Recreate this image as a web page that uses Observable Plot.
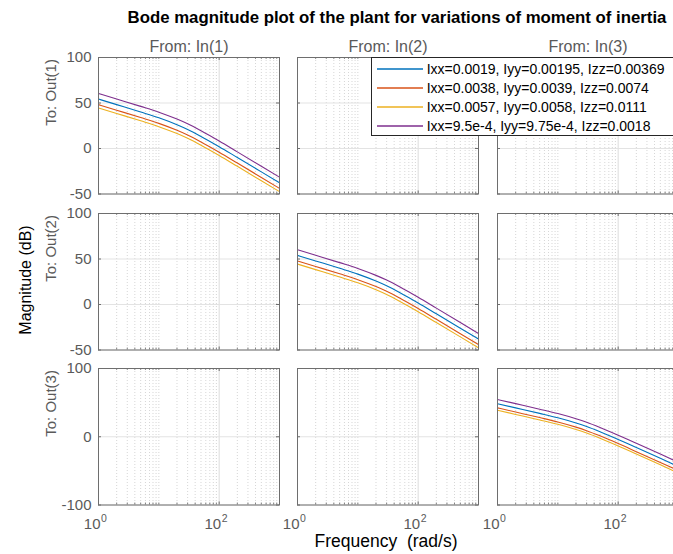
<!DOCTYPE html>
<html>
<head>
<meta charset="utf-8">
<script src="https://cdn.jsdelivr.net/npm/d3@7"></script>
<script src="https://cdn.jsdelivr.net/npm/@observablehq/plot@0.6"></script>
<style>
  html, body { margin: 0; padding: 0; background: #fff; overflow: hidden; }
  #chart { position: relative; width: 673px; height: 554px; overflow: hidden;
           font-family: "Liberation Sans", Arial, Helvetica, sans-serif; }
  .abs { position: absolute; white-space: pre; line-height: 1; }
  #title { font-weight: bold; font-size: 16.8px; color: #000; }
  #legend { position: absolute; background: #fff; border: 1px solid #262626; box-sizing: border-box; }
  .entry { position: absolute; display: flex; align-items: center; font-size: 14px; color: #000; white-space: pre; }
</style>
</head>
<body>
<div id="chart"></div>
<script>
// Frequency grid (rad/s) of the sampled responses
const freq = [1, 2, 5, 10, 20, 30, 50, 100, 200, 500, 1000];

// Inertia cases, in legend order
const seriesLabels = [
  "Ixx=0.0019, Iyy=0.00195, Izz=0.00369",
  "Ixx=0.0038, Iyy=0.0039, Izz=0.0074",
  "Ixx=0.0057, Iyy=0.0058, Izz=0.0111",
  "Ixx=9.5e-4, Iyy=9.75e-4, Izz=0.0018"
];
const seriesColors = ["#0072BD", "#D95319", "#EDB120", "#7E2F8E"];

// Magnitude (dB) of the In(1) -> Out(1) channel, one row per inertia case
const magIn1Out1 = [
  [54.3, 48.2, 40.1, 33.7, 26.1, 20.9, 13.3, 2.0, -9.9, -25.7, -37.7],
  [48.2, 42.1, 34.0, 27.6, 20.0, 14.8, 7.2, -4.1, -16.0, -31.8, -43.8],
  [44.6, 38.5, 30.4, 24.0, 16.4, 11.2, 3.6, -7.7, -19.6, -35.4, -47.4],
  [60.5, 54.4, 46.3, 39.9, 32.3, 27.1, 19.5, 8.2, -3.7, -19.5, -31.5]
];
// Magnitude (dB) of the In(2) -> Out(2) channel
const magIn2Out2 = [
  [54.0, 47.9, 39.8, 33.4, 25.8, 20.6, 13.0, 1.7, -10.2, -26.0, -38.0],
  [47.9, 41.8, 33.7, 27.3, 19.7, 14.5, 6.9, -4.4, -16.3, -32.1, -44.1],
  [44.4, 38.3, 30.2, 23.8, 16.2, 11.0, 3.4, -7.9, -19.8, -35.6, -47.6],
  [60.2, 54.1, 46.0, 39.6, 32.0, 26.8, 19.2, 7.9, -4.0, -19.8, -31.8]
];
// Magnitude (dB) of the In(3) -> Out(3) channel
const magIn3Out3 = [
  [48.4, 42.3, 34.2, 27.8, 20.2, 15.0, 7.4, -3.9, -15.8, -31.6, -43.6],
  [42.3, 36.2, 28.1, 21.7, 14.1, 8.9, 1.3, -10.0, -21.9, -37.7, -49.7],
  [38.8, 32.7, 24.6, 18.2, 10.6, 5.4, -2.2, -13.5, -25.4, -41.2, -53.2],
  [54.6, 48.5, 40.4, 34.0, 26.4, 21.2, 13.6, 2.3, -9.6, -25.4, -37.4]
];

const inputLabels = ["From: In(1)", "From: In(2)", "From: In(3)"];
const outputLabels = ["To: Out(1)", "To: Out(2)", "To: Out(3)"];
const xDomain = [1, 1000];
const xMajor = [1, 100];
const xMinor = [2, 3, 4, 5, 6, 7, 8, 9, 10, 20, 30, 40, 50, 60, 70, 80, 90, 200, 300, 400, 500, 600, 700, 800, 900];
const yTicksUpper = [-50, 0, 50, 100];
const yTicksLower = [-100, 0, 100];

// Only diagonal channels carry a response; off-diagonal axes stay empty
const channelData = [magIn1Out1, magIn2Out2, magIn3Out3];

function toRows(mag) {
  const rows = [];
  mag.forEach((vals, s) => vals.forEach((db, i) => rows.push({f: freq[i], db, series: seriesLabels[s]})));
  return rows;
}

// Panel geometry
const colLeft = [97.7, 297.3, 497.3];
const rowTop = [57.3, 212.5, 367.7];
const panelW = 181, panelH = 136.5;
const mL = 60, mR = 10, mT = 22, mB = 34;
const axisGray = "#6e6e6e";
const labelGray = "#5a5a5a";

const chart = document.getElementById("chart");

function panel(r, c) {
  const lower = r === 2;
  const yDomain = lower ? [-100, 100] : [-50, 100];
  const yTicks = lower ? yTicksLower : yTicksUpper;
  const data = r === c ? toRows(channelData[r]) : [];
  const marks = [
    Plot.ruleX(xMinor, {stroke: "#c4c4c4", strokeDasharray: "1,2", strokeWidth: 0.7}),
    Plot.ruleX(xMajor, {stroke: "#dcdcdc"}),
    Plot.ruleY(yTicks, {stroke: "#e3e3e3"}),
    Plot.line(data, {x: "f", y: "db", z: "series", stroke: "series", strokeWidth: 1.1, curve: "monotone-x"}),
    Plot.frame({stroke: axisGray}),
    // inward tick marks on all four sides
    Plot.ruleX(xMajor, {stroke: axisGray, insetBottom: panelH - 3}),
    Plot.ruleX(xMajor, {stroke: axisGray, insetTop: panelH - 3}),
    Plot.ruleX(xMinor, {stroke: axisGray, strokeWidth: 0.8, insetBottom: panelH - 2}),
    Plot.ruleX(xMinor, {stroke: axisGray, strokeWidth: 0.8, insetTop: panelH - 2}),
    Plot.ruleY(yTicks, {stroke: axisGray, insetRight: panelW - 3}),
    Plot.ruleY(yTicks, {stroke: axisGray, insetLeft: panelW - 3})
  ];
  if (c === 0) {
    marks.push(Plot.text(yTicks, {y: d => d, text: d => String(d), frameAnchor: "left", dx: -7,
      textAnchor: "end", lineAnchor: "middle", fontSize: 15, fill: labelGray}));
    marks.push(Plot.text([outputLabels[r]], {text: d => d, frameAnchor: "left", dx: -47, rotate: -90,
      lineAnchor: "middle", fontSize: 15, fill: labelGray}));
  }
  if (r === 0) {
    marks.push(Plot.text([inputLabels[c]], {text: d => d, frameAnchor: "top", dy: -11,
      lineAnchor: "middle", fontSize: 16, fill: labelGray}));
  }
  if (lower) {
    marks.push(Plot.text(xMajor, {x: d => d, text: () => "10", frameAnchor: "bottom", dy: 19.5, dx: 2,
      textAnchor: "end", lineAnchor: "middle", fontSize: 15, fill: labelGray}));
    marks.push(Plot.text(xMajor, {x: d => d, text: d => String(Math.round(Math.log10(d))), frameAnchor: "bottom",
      dy: 14, dx: 2.5, textAnchor: "start", lineAnchor: "middle", fontSize: 10.5, fill: labelGray}));
  }
  const svg = Plot.plot({
    width: panelW + mL + mR,
    height: panelH + mT + mB,
    marginLeft: mL, marginRight: mR, marginTop: mT, marginBottom: mB,
    style: "background: transparent; overflow: visible; max-width: none; font-family: 'Liberation Sans', Arial, sans-serif;",
    x: {type: "log", domain: xDomain, axis: null},
    y: {domain: yDomain, axis: null},
    color: {domain: seriesLabels, range: seriesColors},
    marks
  });
  const holder = document.createElement("div");
  holder.className = "abs";
  holder.style.left = (colLeft[c] - mL) + "px";
  holder.style.top = (rowTop[r] - mT) + "px";
  holder.appendChild(svg);
  chart.appendChild(holder);
}

for (let r = 0; r < 3; r++) for (let c = 0; c < 3; c++) panel(r, c);

// Title and shared axis labels
function addText(id, text, x, y, css) {
  const d = document.createElement("div");
  d.className = "abs";
  if (id) d.id = id;
  d.textContent = text;
  d.style.left = x + "px";
  d.style.top = y + "px";
  Object.assign(d.style, css);
  chart.appendChild(d);
}
addText("title", "Bode magnitude plot of the plant for variations of moment of inertia", 397, 18,
  {transform: "translate(-50%, -50%)"});
addText(null, "Magnitude (dB)", 26, 280,
  {transform: "translate(-50%, -50%) rotate(-90deg)", fontSize: "16px", color: "#000"});
addText(null, "Frequency  (rad/s)", 386, 542,
  {transform: "translate(-50%, -50%)", fontSize: "17.5px", color: "#000"});

// Legend
const legend = document.createElement("div");
legend.id = "legend";
Object.assign(legend.style, {left: "370.7px", top: "56.7px", width: "320px", height: "79.5px"});
const entryY = [11.6, 30.3, 49, 68.3];
seriesLabels.forEach((label, i) => {
  const e = document.createElement("div");
  e.className = "entry";
  e.style.left = "5px";
  e.style.top = (entryY[i] - 8) + "px";
  e.style.height = "16px";
  e.innerHTML = `<svg width="50" height="16" style="display:block"><line x1="0" x2="46" y1="8" y2="8" stroke="${seriesColors[i]}" stroke-width="1.3"/></svg>`;
  const t = document.createElement("span");
  t.textContent = label;
  e.appendChild(t);
  legend.appendChild(e);
});
chart.appendChild(legend);
</script>
</body>
</html>
